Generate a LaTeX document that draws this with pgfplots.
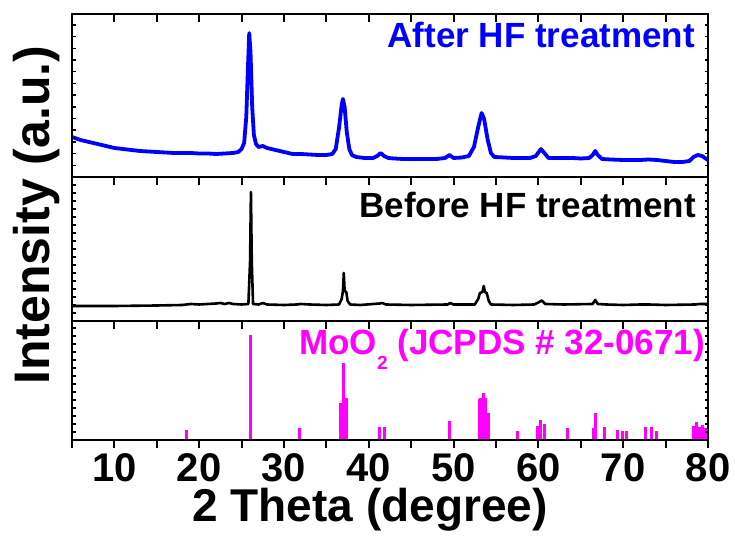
\documentclass[border=0pt]{standalone}
\usepackage{fontspec}
\setmainfont{Liberation Sans}
\usepackage{pgfplots}
\pgfplotsset{compat=1.18}
\definecolor{pblue}{RGB}{0,0,255}
\definecolor{pmag}{RGB}{255,0,255}
\pgfplotsset{
  geo/.style={scale only axis, width=636pt, xmin=5, xmax=80, anchor=south west,
    axis line style={line width=2.8pt}},
  datapanel/.style={geo, xtick=\empty, yticklabels={}, ytick pos=left, tick align=inside,
    major tick length=3.5pt, tick style={black, line width=1.5pt}},
  rightticks/.style={geo, xtick=\empty, yticklabels={}, ytick pos=right, tick align=inside,
    major tick length=3.5pt, tick style={black, line width=1.5pt}},
  gridticks/.style={scale only axis, width=636pt, height=8pt, xmin=5, xmax=80, ymin=0, ymax=1,
    anchor=south west, axis line style={draw=none}, tick style={draw=none},
    xtick={5,10,...,80}, xticklabels={}, ytick=\empty,
    xmajorgrids, major grid style={black, line width=2pt}},
}
\begin{document}
\begin{tikzpicture}
\useasboundingbox (0pt,0pt) rectangle (735pt,537pt);
% top panel
\begin{axis}[datapanel, at={(72pt,360pt)}, height=163pt, ymin=0, ymax=163, ytick={0,11.7,...,163}]
\addplot[pblue, line width=3.8pt, line join=round] coordinates {
(5,40)(6,37)(7,35)(8,33)(9,31)(10,29)(11,28)(12,27)(13,26)(14,25.5)(15,25)(16,24.5)(17,24)(18,24)(19,24)(20,23.5)(21,23.5)(22,23)(23,23.5)(24,24)
(24.6,25)(25.0,28)(25.3,34)(25.55,60)(25.75,110)(25.9,144)(26.05,125)(26.25,70)(26.45,42)(26.7,33)(27.0,30)(27.5,31)(28.0,29)(29.0,27)(30,25)(31,23)(32,23)(33,22.5)(34,22)(35,22)
(35.7,23)(36.1,28)(36.5,50)(36.8,72)(36.95,78)(37.15,70)(37.4,45)(37.7,28)(38.0,22)(38.5,20)(39.5,19)(40.5,19)(41.0,21)(41.4,24)(41.8,21)(42.3,19)(43,18.5)(44,18)(45,18)(46,18)(47,18)(48,18)(49,19)(49.5,22)(50,19)(51,19.5)
(51.8,21)(52.4,30)(52.9,50)(53.3,64)(53.6,58)(54.0,38)(54.4,24)(54.8,20)(56,19.5)(57,19)(58,19)(59,19)(59.7,21)(60.3,28)(60.7,24)(61.2,19)(62,19)(63,19)(64,19)(65,18.5)
(66.0,19)(66.4,22)(66.7,26)(67.0,22)(67.5,18)(68.5,17.5)(70,17)(71,17)(72,17)(73,17.5)(74,17)(75,16)(76,15)(77,15)(77.8,16)(78.3,20)(78.8,22)(79.3,21)(79.8,18)(80,17)
};
\end{axis}
\begin{axis}[rightticks, at={(72pt,360pt)}, height=163pt, ymin=0, ymax=163, ytick={0,11.7,...,163}]
\end{axis}
\begin{axis}[gridticks, at={(72pt,515pt)}]
\end{axis}
% middle panel
\begin{axis}[datapanel, at={(72pt,216pt)}, height=144pt, ymin=0, ymax=144, ytick={0,8,...,144}]
\addplot[black, line width=2.6pt, line join=round] coordinates {
(5,15)(10,15)(15,15.5)(18,16)(19,17)(20,16.5)(21,17)(22,17.5)(22.5,18)(23,17)(23.5,18)(24,17)(25,16.5)(25.8,17)(26.0,60)(26.1,129)(26.2,60)(26.35,17)(27,16.5)(27.5,18)(28,16.5)(30,16)(31.5,16.5)(32,17)(33,16.5)(35,16)
(36.5,16.5)(36.8,22)(36.95,30)(37.05,48)(37.15,30)(37.35,29)(37.5,20)(37.8,16.5)(39,16)(41.3,17.5)(41.6,18)(42,16.5)(45,16)(49.3,16.5)(49.6,18)(50,16.5)(52.5,16.5)
(52.9,22)(53.1,28)(53.4,29)(53.55,35)(53.7,29)(53.9,28)(54.15,20)(54.4,16.5)(57,16)(59.5,16.5)(60.1,19)(60.4,20.5)(60.8,17)(63,16.5)(66.4,17)(66.7,21)(67,17)(68,16.5)(70,16)(72,16.5)(73,16.5)(75,16)(78.5,16.5)(79,17)(80,17)
};
\end{axis}
\begin{axis}[rightticks, at={(72pt,216pt)}, height=144pt, ymin=0, ymax=144, ytick={0,8,...,144}]
\end{axis}
\begin{axis}[gridticks, at={(72pt,352pt)}]
\end{axis}
% bottom panel (reference sticks)
\begin{axis}[datapanel, at={(72pt,97pt)}, height=119pt, ymin=0, ymax=119, ytick={0,8,...,119}]
\addplot[pmag, ycomb, line width=3pt] coordinates {
(18.45,10)(26.03,105)(31.77,11.6)(36.72,36.7)(37.03,76.7)(37.39,41.7)(41.32,13.3)(41.83,12.7)(49.5,18.7)(53.03,41)(53.23,42)(53.58,46.7)(53.82,42)(54.09,27.3)
(57.51,8.7)(59.87,14.3)(60.27,20)(60.66,16)(63.41,11.6)(66.48,11.6)(66.76,27)(67.74,12.7)(69.35,10)(69.94,8.7)(70.41,8.7)(72.57,12.7)(73.36,12.7)(73.95,8.7)
(78.27,14.3)(78.67,17.7)(78.98,13.3)(79.37,15)(79.76,12)
};
\end{axis}
\begin{axis}[rightticks, at={(72pt,97pt)}, height=119pt, ymin=0, ymax=119, ytick={0,8,...,119}]
\end{axis}
\begin{axis}[gridticks, at={(72pt,208pt)}]
\end{axis}
% outward ticks below the bottom panel
\begin{axis}[gridticks, at={(72pt,89pt)}]
\end{axis}
% bottom tick labels
\begin{axis}[geo, at={(72pt,97pt)}, height=119pt, ymin=0, ymax=1, ytick=\empty,
  xtick={5,10,...,80}, xtick pos=left, tick align=outside, major tick length=7pt, tick style={draw=none},
  xticklabels={,10,,20,,30,,40,,50,,60,,70,,80},
  xticklabel style={font=\fontsize{40}{40}\selectfont\bfseries, anchor=base, inner sep=0pt, yshift=-34pt}]
\end{axis}
\node[anchor=base east, inner sep=0, text=pblue, font=\fontsize{35}{40}\selectfont\bfseries] at (695pt,489pt) {After HF treatment};
\node[anchor=base east, inner sep=0, text=black, font=\fontsize{35}{40}\selectfont\bfseries] at (696pt,319pt) {Before HF treatment};
\node[anchor=base east, inner sep=0, text=pmag, font=\fontsize{35}{40}\selectfont\bfseries] at (705pt,182pt) {MoO\raisebox{-15pt}{\fontsize{19}{19}\selectfont 2} (JCPDS \# 32-0671)};
\node[anchor=base, inner sep=0, font=\fontsize{46}{50}\selectfont\bfseries] at (370pt,15pt) {2 Theta (degree)};
\node[anchor=base, rotate=90, inner sep=0, font=\fontsize{50}{56}\selectfont\bfseries] at (49pt,322pt) {Intensity (a.u.)};
\end{tikzpicture}
\end{document}
